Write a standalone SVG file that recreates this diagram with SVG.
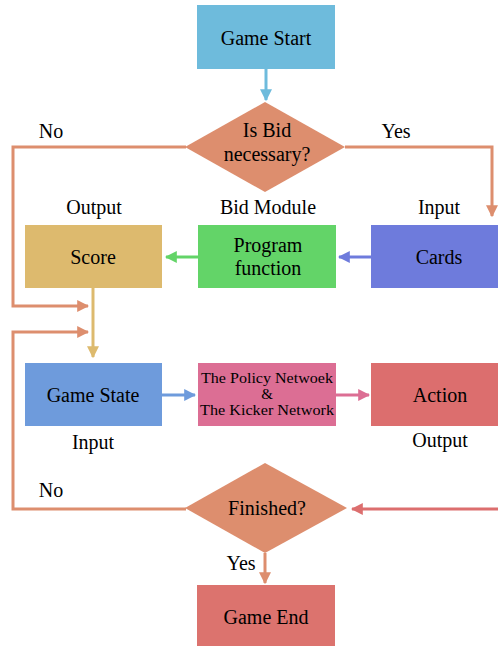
<svg xmlns="http://www.w3.org/2000/svg" width="498" height="646" viewBox="0 0 498 646" font-family="'Liberation Serif', 'Times New Roman', Tinos, 'DejaVu Serif', serif">
<defs>
<style>
text{font-family:'Liberation Serif','Times New Roman',Tinos,'DejaVu Serif',serif;fill:#000;text-anchor:middle}
.t{font-size:20px}
.l{font-size:20px}
.s{font-size:15px}
.c{fill:none;stroke-width:3}
.o{stroke:#DD8E6E}
</style>
<marker id="aB" viewBox="0 0 10 10" refX="9" refY="5" markerWidth="4" markerHeight="4" orient="auto"><path d="M0,0L10,5L0,10z" fill="#6EBBDC"/></marker>
<marker id="aO" viewBox="0 0 10 10" refX="9" refY="5" markerWidth="4" markerHeight="4" orient="auto"><path d="M0,0L10,5L0,10z" fill="#DD8E6E"/></marker>
<marker id="aG" viewBox="0 0 10 10" refX="9" refY="5" markerWidth="4" markerHeight="4" orient="auto"><path d="M0,0L10,5L0,10z" fill="#63D468"/></marker>
<marker id="aP" viewBox="0 0 10 10" refX="9" refY="5" markerWidth="4" markerHeight="4" orient="auto"><path d="M0,0L10,5L0,10z" fill="#6E7BDC"/></marker>
<marker id="aY" viewBox="0 0 10 10" refX="9" refY="5" markerWidth="4" markerHeight="4" orient="auto"><path d="M0,0L10,5L0,10z" fill="#DDBA6E"/></marker>
<marker id="aS" viewBox="0 0 10 10" refX="9" refY="5" markerWidth="4" markerHeight="4" orient="auto"><path d="M0,0L10,5L0,10z" fill="#6E9BDC"/></marker>
<marker id="aK" viewBox="0 0 10 10" refX="9" refY="5" markerWidth="4" markerHeight="4" orient="auto"><path d="M0,0L10,5L0,10z" fill="#DC6E94"/></marker>
<marker id="aR" viewBox="0 0 10 10" refX="9" refY="5" markerWidth="4" markerHeight="4" orient="auto"><path d="M0,0L10,5L0,10z" fill="#DC6E6E"/></marker>
</defs>
<rect width="498" height="646" fill="#fff"/>
<g id="connectors">
<path class="c" stroke="#6EBBDC" d="M266,69V100" marker-end="url(#aB)"/>
<path class="c o" d="M186,147H13V306H88" marker-end="url(#aO)"/>
<path class="c o" d="M345,147H492V216" marker-end="url(#aO)"/>
<path class="c" stroke="#6E7BDC" d="M371,257H339" marker-end="url(#aP)"/>
<path class="c" stroke="#63D468" d="M198,257H166" marker-end="url(#aG)"/>
<path class="c" stroke="#DDBA6E" d="M93,288V357" marker-end="url(#aY)"/>
<path class="c" stroke="#6E9BDC" d="M162,395H195" marker-end="url(#aS)"/>
<path class="c" stroke="#DC6E94" d="M336,395H369" marker-end="url(#aK)"/>
<path class="c" stroke="#DC6E6E" d="M498,509H352" marker-end="url(#aR)"/>
<path class="c o" d="M186,509H13V332H88" marker-end="url(#aO)"/>
<path class="c o" d="M265,553V583" marker-end="url(#aO)"/>
</g>
<g id="game-start"><rect x="197" y="5" width="138" height="64" fill="#6EBBDC"/><text class="t" x="266" y="45">Game Start</text></g>
<g id="is-bid"><path d="M265,102L345,147L265,192L185,147z" fill="#DD8E6E"/><text class="t" x="267" y="137">Is Bid</text><text class="t" x="267" y="161">necessary?</text></g>
<g id="labels-top"><text class="l" x="51" y="138">No</text><text class="l" x="396" y="138">Yes</text><text class="l" x="94" y="214">Output</text><text class="l" x="268" y="214">Bid Module</text><text class="l" x="439" y="214">Input</text></g>
<g id="score"><rect x="25" y="225" width="137" height="63" fill="#DDBA6E"/><text class="t" x="93" y="264">Score</text></g>
<g id="program-function"><rect x="198" y="225" width="138" height="63" fill="#63D468"/><text class="t" x="268" y="252">Program</text><text class="t" x="268" y="275">function</text></g>
<g id="cards"><rect x="371" y="225" width="127" height="63" fill="#6E7BDC"/><text class="t" x="439" y="264">Cards</text></g>
<g id="game-state"><rect x="25" y="363" width="137" height="63" fill="#6E9BDC"/><text class="t" x="93" y="402">Game State</text></g>
<g id="policy"><rect x="198" y="363" width="138" height="63" fill="#DC6E94"/><text class="s" x="267" y="383" textLength="132" lengthAdjust="spacingAndGlyphs">The Policy Netwoek</text><text class="s" x="267" y="399">&amp;</text><text class="s" x="267" y="415" textLength="134" lengthAdjust="spacingAndGlyphs">The Kicker Network</text></g>
<g id="action"><rect x="371" y="363" width="127" height="63" fill="#DC6E6E"/><text class="t" x="440" y="402">Action</text></g>
<g id="labels-mid"><text class="l" x="93" y="449">Input</text><text class="l" x="440" y="447">Output</text></g>
<g id="finished"><path d="M265,463L347,508L265,553L185,508z" fill="#DD8E6E"/><text class="t" x="267" y="515">Finished?</text></g>
<g id="labels-bottom"><text class="l" x="51" y="497">No</text><text class="l" x="241" y="570">Yes</text></g>
<g id="game-end"><rect x="197" y="585" width="138" height="61" fill="#DC736E"/><text class="t" x="266" y="624">Game End</text></g>
</svg>
